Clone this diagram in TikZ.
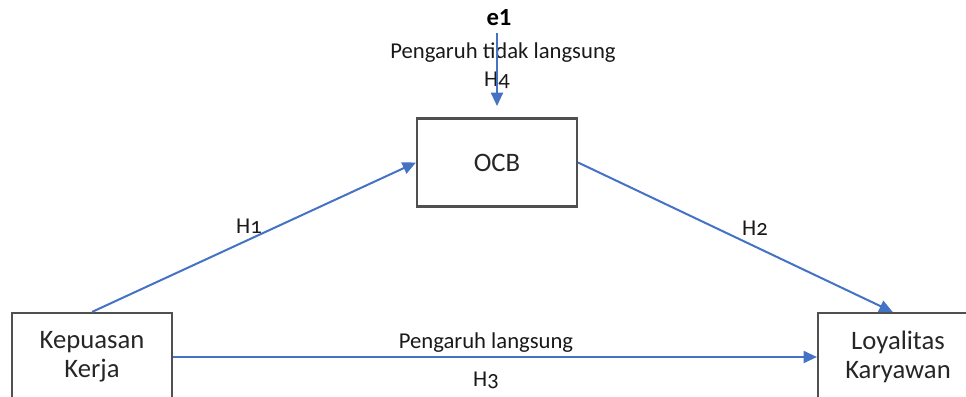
\documentclass[tikz,border=0pt]{standalone}
\usepackage{fontspec}
\setmainfont{Carlito}
\newfontfamily\oldnum[Numbers=OldStyle]{Carlito}
\usetikzlibrary{arrows.meta}

\definecolor{garis}{HTML}{4472C4}
\definecolor{tepi}{HTML}{505050}

\begin{document}
\begin{tikzpicture}[
  x=0.75pt, y=-0.75pt,
  kotak/.style={draw=tepi, line width=1.6pt, align=center, minimum width=120pt, minimum height=66pt, font=\fontsize{20}{22}\selectfont, text=black!85},
  ket/.style={font=\fontsize{17}{19}\selectfont, text=black!90, inner sep=1pt},
  seta/.style={-{Triangle[length=10pt,width=9pt]}, garis, line width=1.5pt}
]
\clip (0,0) rectangle (966,396);
\node[kotak] (ocb) at (497,162.5) {OCB};
\node[kotak] (kk) at (92,357) {Kepuasan\\Kerja};
\node[kotak] (lk) at (898,357) {Loyalitas\\Karyawan};
\node[font=\fontsize{18.5}{20}\selectfont\bfseries, inner sep=1pt] (e1) at (499,18) {e1};
\coordinate (e1tip) at (497,106);

\node[ket] (tl) at (503,53) {Pengaruh tidak langsung};
\node[ket] (h4) at (497,80) {H\oldnum 4};
\node[ket] (h1) at (249,226) {H\oldnum 1};
\node[ket] (h2) at (755,228) {H\oldnum 2};
\node[ket] (pl) at (486,343) {Pengaruh langsung};
\node[ket] (h3) at (486,380) {H\oldnum 3};

\draw[seta] (e1tip |- e1.south) ++(0,-4pt) -- (e1tip);
\draw[seta] (kk.north) -- (ocb.west);
\draw[seta] (ocb.east) -- ([xshift=-4pt]lk.north);
\draw[seta] (kk.east) -- (lk.west);
\end{tikzpicture}
\end{document}
